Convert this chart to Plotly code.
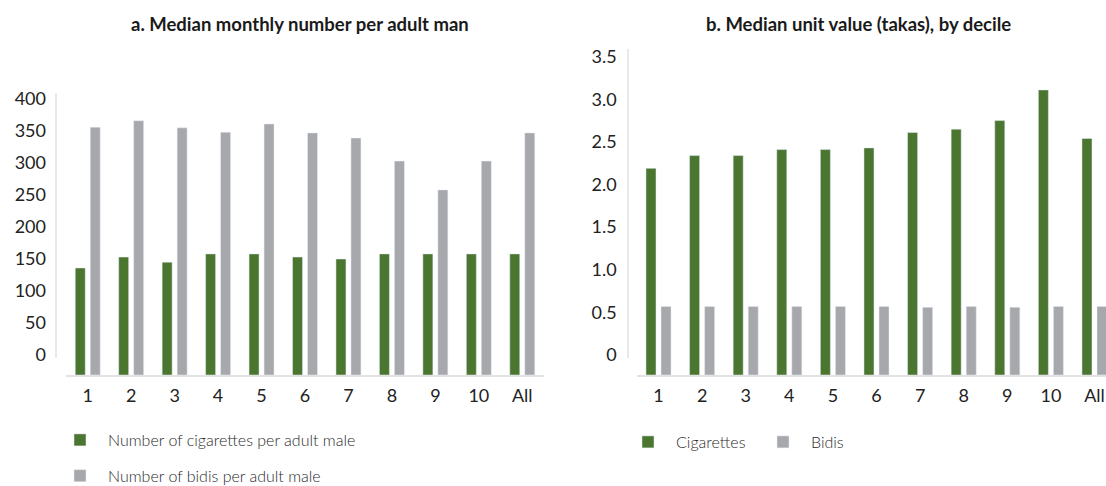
import plotly.graph_objects as go

# ---------------- data ----------------
deciles = ["1", "2", "3", "4", "5", "6", "7", "8", "9", "10", "All"]
cig_count = [136, 153, 145, 158, 158, 153, 150, 158, 158, 158, 158]
bidi_count = [356, 366, 355, 348, 361, 347, 339, 303, 258, 303, 347]
cig_price = [2.19, 2.34, 2.34, 2.41, 2.41, 2.43, 2.61, 2.65, 2.75, 3.11, 2.54]
bidi_price = [0.57, 0.57, 0.57, 0.57, 0.57, 0.57, 0.56, 0.57, 0.56, 0.57, 0.57]
left_ticks = [0, 50, 100, 150, 200, 250, 300, 350, 400]
right_ticks = [0, 0.5, 1.0, 1.5, 2.0, 2.5, 3.0, 3.5]
right_ticktext = ["0", "0.5", "1.0", "1.5", "2.0", "2.5", "3.0", "3.5"]

# ---------------- layout constants ----------------
W, H = 1106, 486
TOP, BOTTOM = 49, 375          # plot area in px
ZERO = 355                     # px of the "0" label
L_DOM = (66, 544)
R_DOM = (636.7, 1106)
l_ppu = 256 / 400
r_ppu = (355 - 56.7) / 3.5
GREEN = "#4a7630"
GREY = "#a7a8ac"
AXIS = "#e2e2e2"
FONT = "Lato"


def yrange(ppu):
    return [-(BOTTOM - ZERO) / ppu, (ZERO - TOP) / ppu]


def px2val(py, ppu):
    return (ZERO - py) / ppu


l_rng = yrange(l_ppu)
r_rng = yrange(r_ppu)
plot_h = BOTTOM - TOP


def py2paper(py):
    return (BOTTOM - py) / plot_h


fig = go.Figure()

fig.add_trace(go.Bar(
    x=deciles, y=[v - l_rng[0] for v in cig_count], base=l_rng[0],
    customdata=cig_count, hovertemplate="%{x}: %{customdata}<extra></extra>",
    marker_color=GREEN, name="Number of cigarettes per adult male",
    xaxis="x", yaxis="y", legend="legend", legendgroup="g1"))
fig.add_trace(go.Bar(
    x=deciles, y=[v - l_rng[0] for v in bidi_count], base=l_rng[0],
    customdata=bidi_count, hovertemplate="%{x}: %{customdata}<extra></extra>",
    marker_color=GREY, name="Number of bidis per adult male",
    xaxis="x", yaxis="y", legend="legend", legendgroup="g2"))
fig.add_trace(go.Bar(
    x=deciles, y=[v - r_rng[0] for v in cig_price], base=r_rng[0],
    customdata=cig_price, hovertemplate="%{x}: %{customdata}<extra></extra>",
    marker_color=GREEN, name="Cigarettes",
    xaxis="x2", yaxis="y2", legend="legend2"))
fig.add_trace(go.Bar(
    x=deciles, y=[v - r_rng[0] for v in bidi_price], base=r_rng[0],
    customdata=bidi_price, hovertemplate="%{x}: %{customdata}<extra></extra>",
    marker_color=GREY, name="Bidis",
    xaxis="x2", yaxis="y2", legend="legend2"))

xcommon = dict(type="category", showgrid=False, zeroline=False, showline=True,
               linecolor=AXIS, linewidth=2, ticks="",
               tickfont=dict(family=FONT, size=18, color="#222222"),
               ticklabelstandoff=3)
ycommon = dict(showgrid=False, zeroline=False, showline=False, ticks="",
               tickfont=dict(family=FONT, size=18, color="#222222"),
               ticklabelstandoff=19)

fig.update_layout(
    width=W, height=H,
    margin=dict(l=0, r=0, t=TOP, b=H - BOTTOM, pad=0, autoexpand=False),
    paper_bgcolor="white", plot_bgcolor="white",
    barmode="group", bargap=0.31, bargroupgap=1 / 3,
    font=dict(family=FONT, color="#222222"),
    xaxis=dict(domain=[L_DOM[0] / W, L_DOM[1] / W], anchor="y",
               range=[-0.5, 10.5], **xcommon),
    yaxis=dict(domain=[0, 1], anchor="x", range=l_rng, tickvals=left_ticks,
               **ycommon),
    xaxis2=dict(domain=[R_DOM[0] / W, R_DOM[1] / W], anchor="y2",
                range=[-0.5, 10 + (W - 1094.5) / 43.6], **xcommon),
    yaxis2=dict(domain=[0, 1], anchor="x2", range=r_rng, tickvals=right_ticks,
                ticktext=right_ticktext, **ycommon),
    legend=dict(x=52 / W, xanchor="left", y=py2paper(423), yanchor="top",
                orientation="v", traceorder="grouped", tracegroupgap=12,
                itemwidth=46, bgcolor="rgba(0,0,0,0)",
                font=dict(family=FONT, size=16, color="#2a2a2a", weight=300),
                itemclick=False, itemdoubleclick=False),
    legend2=dict(x=620 / W, xanchor="left", y=py2paper(425), yanchor="top",
                 orientation="h", itemwidth=46, entrywidth=74,
                 entrywidthmode="pixels", bgcolor="rgba(0,0,0,0)",
                 font=dict(family=FONT, size=16, color="#2a2a2a", weight=300),
                 itemclick=False, itemdoubleclick=False),
    showlegend=True,
)

# vertical axis lines (shorter than the plot area, as in the reference)
fig.add_shape(type="line", xref="x domain", yref="y",
              x0=(56 - L_DOM[0]) / (L_DOM[1] - L_DOM[0]),
              x1=(56 - L_DOM[0]) / (L_DOM[1] - L_DOM[0]),
              y0=px2val(358, l_ppu), y1=px2val(93, l_ppu),
              line=dict(color=AXIS, width=1.5))
fig.add_shape(type="line", xref="x2 domain", yref="y2",
              x0=(628 - R_DOM[0]) / (R_DOM[1] - R_DOM[0]),
              x1=(628 - R_DOM[0]) / (R_DOM[1] - R_DOM[0]),
              y0=px2val(358, r_ppu), y1=r_rng[1],
              line=dict(color=AXIS, width=1.5))

# panel titles
fig.add_annotation(text="a. Median monthly number per adult man",
                   xref="paper", yref="paper", x=300 / W, y=py2paper(24),
                   xanchor="center", yanchor="middle", showarrow=False,
                   font=dict(family=FONT, size=18.5, color="#1a1a1a", weight="bold"))
fig.add_annotation(text="b. Median unit value (takas), by decile",
                   xref="paper", yref="paper", x=858 / W, y=py2paper(24),
                   xanchor="center", yanchor="middle", showarrow=False,
                   font=dict(family=FONT, size=18.5, color="#1a1a1a", weight="bold"))

fig.write_html("out.html")
